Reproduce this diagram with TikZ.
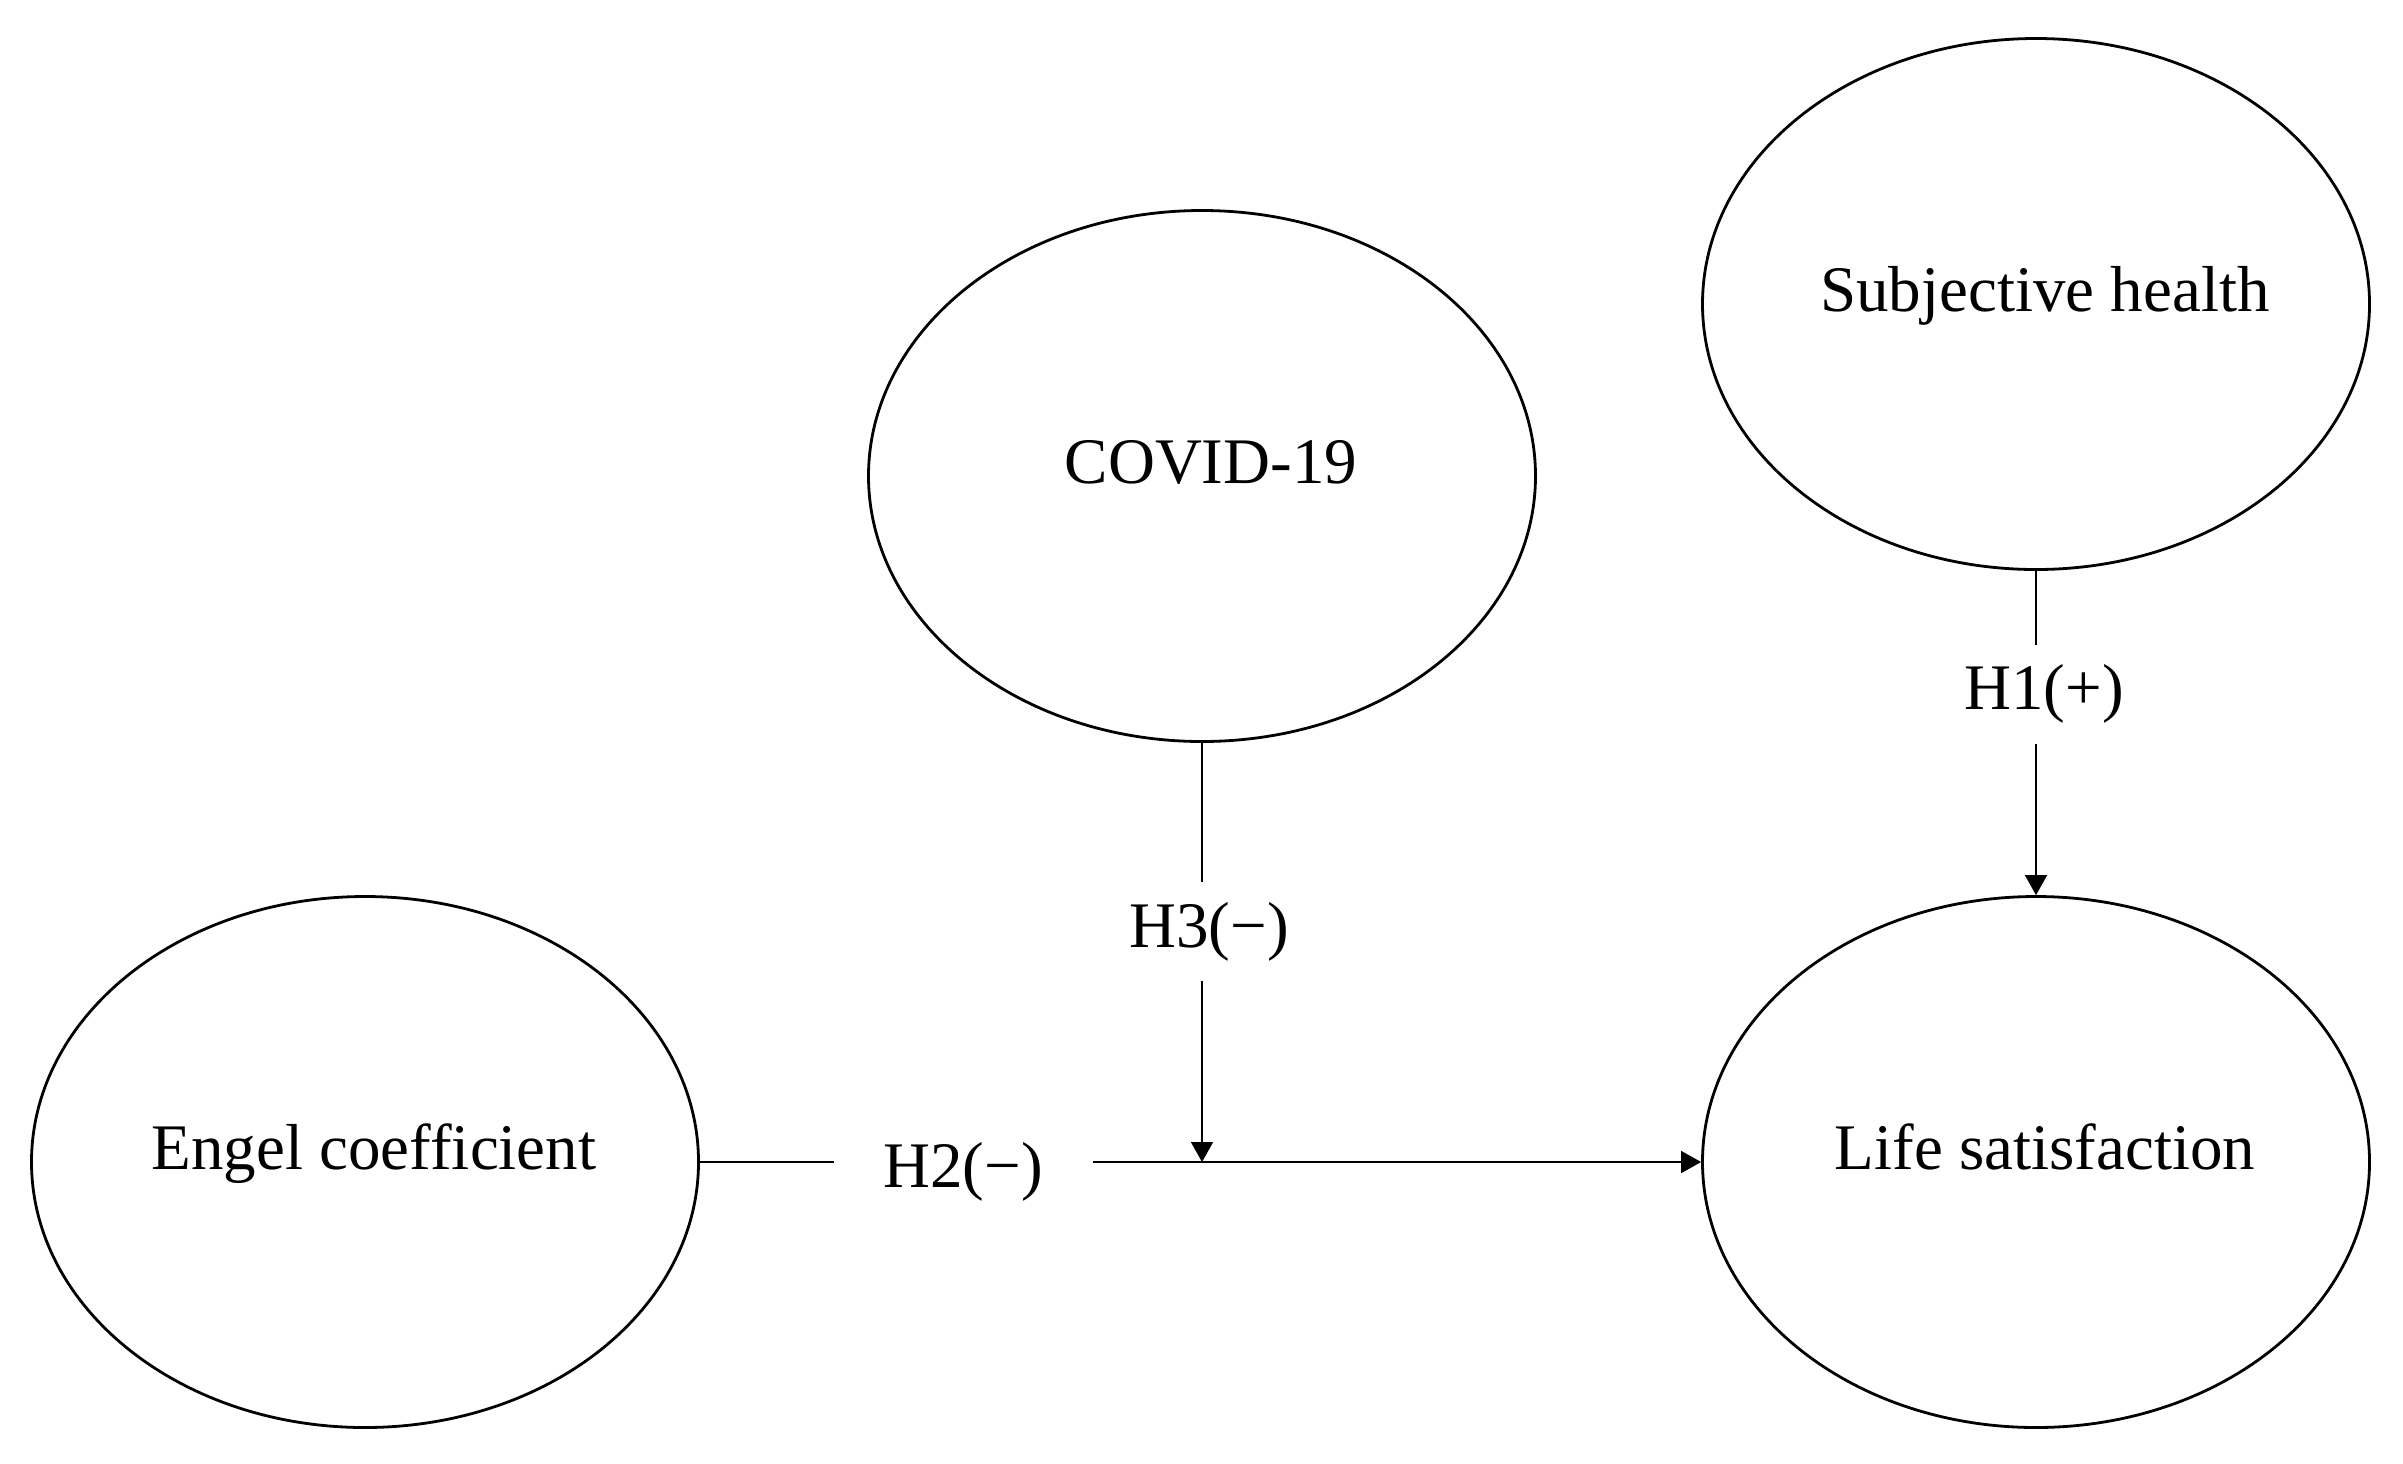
\documentclass[tikz,border=0pt]{standalone}
\usepackage{fontspec}
\setmainfont{Liberation Serif}
\usetikzlibrary{shapes.geometric,arrows.meta}
\newcommand{\nudge}{\hspace*{9pt}}
\begin{document}
\begin{tikzpicture}[x=0.5pt,y=-0.5pt,
  latent/.style={draw,ellipse,line width=1.4pt,minimum width=333.5pt,minimum height=265.5pt,
    inner sep=0pt,font=\fontsize{32.5}{39}\selectfont,text height=22pt,text depth=14.3pt},
  conn/.style={line width=0.8pt},
  arr/.style={conn,-{Triangle[length=10pt,width=11pt]}},
  hyp/.style={fill=white,font=\fontsize{32.5}{39}\selectfont,inner xsep=25pt,inner ysep=10pt}]
\useasboundingbox (0,0) rectangle (2403,1463);
\node[latent] (sh) at (2036,304) {\nudge Subjective health};
\node[latent] (cv) at (1202,476) {\nudge COVID-19};
\node[latent] (ec) at (365,1162) {\nudge Engel coefficient};
\node[latent] (ls) at (2036,1162) {\nudge Life satisfaction};
\coordinate (m) at (cv.south |- ec.east);
\draw[arr] (ec.east) -- node[hyp,pos=0.263,yshift=-5pt] (h2) {H2(−)} (ls.west);
\draw[arr] (cv.south) -- node[hyp,pos=0.45,xshift=3.5pt] (h3) {H3(−)} (m);
\draw[arr] (sh.south) -- node[hyp,pos=0.38,xshift=4pt] (h1) {H1(+)} (ls.north);
\end{tikzpicture}
\end{document}
